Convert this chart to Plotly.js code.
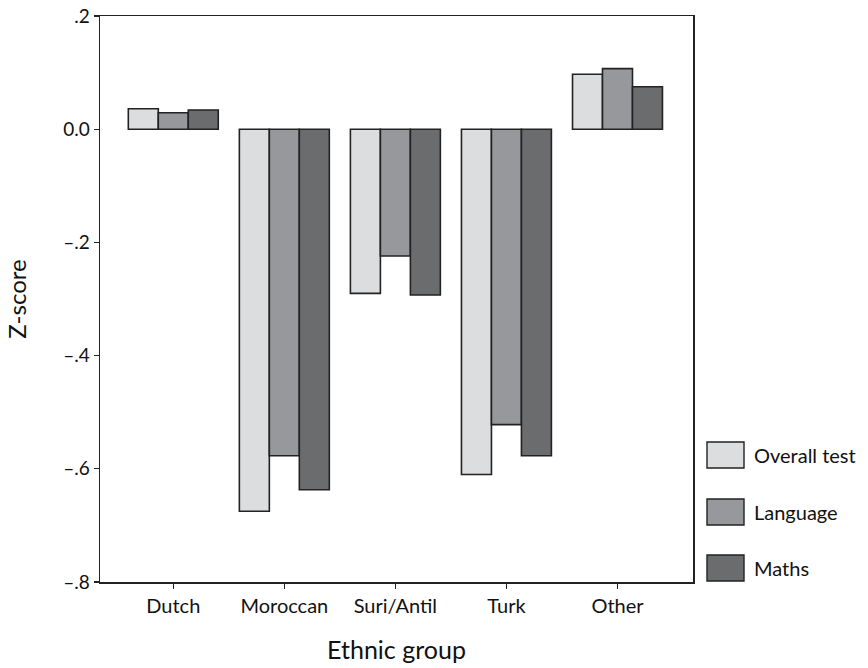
<!DOCTYPE html>
<html>
<head>
<meta charset="utf-8">
<script src="https://cdn.plot.ly/plotly-3.0.1.min.js"></script>
<style>html,body{margin:0;padding:0;background:#fff;}#chart{width:868px;height:668px;}</style>
</head>
<body>
<div id="chart"></div>
<script>
const categories = ["Dutch", "Moroccan", "Suri/Antil", "Turk", "Other"];
const seriesNames = ["Overall test", "Language", "Maths"];
const overallTest = [0.036, -0.675, -0.290, -0.610, 0.097];
const language    = [0.029, -0.577, -0.224, -0.522, 0.107];
const maths       = [0.034, -0.637, -0.293, -0.577, 0.075];
const yTickVals = [0.2, 0, -0.2, -0.4, -0.6, -0.8];
const yTickText = [".2", "0.0", "\u2013.2", "\u2013.4", "\u2013.6", "\u2013.8"];

const colors = ["#dcdddf", "#97989b", "#6b6c6e"];
const seriesValues = [overallTest, language, maths];
const FONT = "Lato, 'Open Sans', sans-serif";

const traces = seriesValues.map((vals, i) => ({
  type: "bar",
  x: categories,
  y: vals,
  name: seriesNames[i],
  marker: {color: colors[i], line: {color: "#222", width: 1.6}},
  showlegend: false,
  hoverinfo: "x+y+name"
}));

// plot area in pixels
const L = 100, R = 693, T = 16, B = 582;
const W = 868, H = 668;
const px2x = p => (p - L) / (R - L);
const py2y = p => (B - p) / (B - T);

const legendCenters = [455, 512, 568];
const shapes = [], annotations = [];
legendCenters.forEach((cy, i) => {
  shapes.push({type: "rect", xref: "paper", yref: "paper",
    x0: px2x(707), x1: px2x(744), y0: py2y(cy + 13), y1: py2y(cy - 13),
    fillcolor: colors[i], line: {color: "#222", width: 1.4}});
  annotations.push({xref: "paper", yref: "paper", x: px2x(752), y: py2y(cy),
    xanchor: "left", yanchor: "middle", showarrow: false, text: seriesNames[i],
    font: {family: FONT, size: 20, color: "#111"}});
});

const layout = {
  width: W, height: H,
  margin: {l: L, r: W - R, t: T, b: H - B, pad: 0},
  paper_bgcolor: "#fff", plot_bgcolor: "#fff",
  barmode: "group", bargap: 0.19, bargroupgap: 0,
  font: {family: FONT, size: 17, color: "#111"},
  xaxis: {
    type: "category", range: [-0.66, 4.68],
    showline: true, mirror: true, linecolor: "#222", linewidth: 1.5,
    ticks: "outside", ticklen: 5, tickcolor: "#222", tickwidth: 1.3,
    showgrid: false, zeroline: false,
    tickfont: {family: FONT, size: 20, color: "#111"},
    title: {text: "Ethnic group", standoff: 26, font: {family: FONT, size: 25, color: "#111"}}
  },
  yaxis: {
    range: [-0.8, 0.2], tickvals: yTickVals, ticktext: yTickText,
    showline: true, mirror: true, linecolor: "#222", linewidth: 1.5,
    ticks: "outside", ticklen: 5, tickcolor: "#222", tickwidth: 1.3,
    showgrid: false, zeroline: false,
    tickfont: {family: FONT, size: 19, color: "#111"},
    title: {text: "Z-score", standoff: 30, font: {family: FONT, size: 24, color: "#111"}}
  },
  shapes: shapes,
  annotations: annotations
};

Plotly.newPlot("chart", traces, layout, {displayModeBar: false, staticPlot: true});
</script>
</body>
</html>
